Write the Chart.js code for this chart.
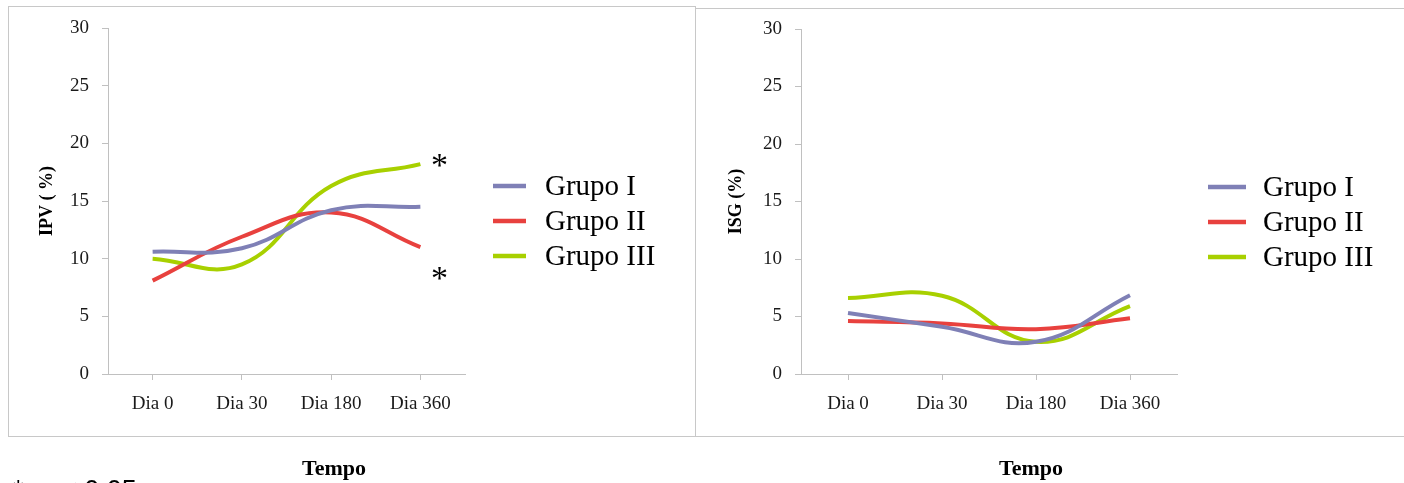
<!DOCTYPE html>
<html>
<head>
<meta charset="utf-8">
<script src="https://cdn.jsdelivr.net/npm/chart.js@4.4.1/dist/chart.umd.min.js"></script>
<style>
  html, body { margin: 0; padding: 0; background: #fff; overflow: hidden; }
  body { width: 1404px; height: 483px; position: relative; }
  .box { position: absolute; border: 1px solid #c8c8c8; box-sizing: border-box; }
  canvas { position: absolute; top: 0; }
  .tempo { position: absolute; width: 120px; text-align: center; font: bold 22px "Liberation Serif", serif; line-height: 26px; color: #000; }
  .nota { position: absolute; left: 13px; top: 477px; font: 27px "Liberation Sans", Arial, sans-serif; line-height: 27px; color: #000; white-space: pre; }
</style>
</head>
<body>

<div class="box" style="left:8px; top:6px; width:688px; height:431px;"></div>
<div class="box" style="left:695px; top:8px; width:720px; height:429px;"></div>

<canvas id="ipvChart" width="697" height="483" style="left:0px;"></canvas>
<canvas id="isgChart" width="707" height="483" style="left:697px;"></canvas>

<div class="tempo" style="left:274px; top:455px;">Tempo</div>
<div class="tempo" style="left:971px; top:455px;">Tempo</div>
<div class="nota">*  p &lt; 0.05</div>

<script>
// categorias e valores
var dias = ["Dia 0", "Dia 30", "Dia 180", "Dia 360"];
var grupos = ["Grupo I", "Grupo II", "Grupo III"];
var cores = ["#7f80b6", "#e8413e", "#a8d000"];

var ipvGrupoI   = [10.6, 10.9, 14.2, 14.5];
var ipvGrupoII  = [8.1, 11.9, 14.0, 11.0];
var ipvGrupoIII = [10.0, 9.5, 16.3, 18.2];

var isgGrupoI   = [5.3, 4.1, 2.8, 6.85];
var isgGrupoII  = [4.6, 4.4, 3.9, 4.85];
var isgGrupoIII = [6.6, 6.8, 2.8, 5.9];

var yTicks = [0, 5, 10, 15, 20, 25, 30];

// asteriscos (p<0.05) no IPV, Dia 360
var ipvAsteriscos = [18.6, 8.85];

var legendaPlugin = {
	id: "legendaPlugin",
	afterDraw: function(chart, args, opts) {
		var ctx = chart.ctx;
		var r = chart.chartArea.right;
		ctx.save();
		chart.data.datasets.forEach(function(ds, i) {
			var y = opts.y0 + i * opts.dy;
			ctx.strokeStyle = ds.borderColor;
			ctx.lineWidth = 4.5;
			ctx.beginPath();
			ctx.moveTo(r + opts.lineStart, y);
			ctx.lineTo(r + opts.lineEnd, y);
			ctx.stroke();
			ctx.fillStyle = "#000";
			ctx.font = '29px "Liberation Serif", serif';
			ctx.textBaseline = "middle";
			ctx.textAlign = "left";
			ctx.fillText(ds.label, r + opts.textStart, y + 1);
		});
		ctx.restore();
	}
};

var asteriscoPlugin = {
	id: "asteriscoPlugin",
	afterDraw: function(chart, args, opts) {
		if (!opts.valores) return;
		var ctx = chart.ctx;
		var x = chart.scales.x.getPixelForValue(dias.length - 1) + 19;
		ctx.save();
		ctx.fillStyle = "#000";
		ctx.font = '34px "Liberation Serif", serif';
		ctx.textAlign = "center";
		ctx.textBaseline = "alphabetic";
		opts.valores.forEach(function(v) {
			var y = chart.scales.y.getPixelForValue(v);
			ctx.fillText("*", x, y + 17);
		});
		ctx.restore();
	}
};

function desenhar(id, titulo, series, cfg) {
	var datasets = series.map(function(s, i) {
		return {
			label: grupos[i],
			data: s,
			borderColor: cores[i],
			backgroundColor: cores[i],
			borderWidth: 4,
			pointRadius: 0,
			fill: false,
			tension: 0.42
		};
	});

	var tickFont = { family: '"Liberation Serif", serif', size: 19 };

	return new Chart(id, {
		type: "line",
		data: { labels: dias, datasets: datasets },
		options: {
			responsive: false,
			animation: false,
			layout: { padding: cfg.padding },
			plugins: {
				legend: { display: false },
				tooltip: { enabled: false },
				legendaPlugin: cfg.legenda,
				asteriscoPlugin: { valores: cfg.asteriscos }
			},
			scales: {
				x: {
					offset: true,
					grid: { offset: false, drawOnChartArea: false, tickLength: 6, color: "#c0c0c0" },
					border: { color: "#c0c0c0" },
					ticks: { font: tickFont, color: "#1a1a1a", padding: 13, maxRotation: 0 },
					afterFit: function(scale) { scale.height = 109; }
				},
				y: {
					min: 0,
					max: 30,
					afterBuildTicks: function(scale) {
						scale.ticks = yTicks.map(function(v) { return { value: v }; });
					},
					grid: { drawOnChartArea: false, tickLength: 6, color: "#c0c0c0" },
					border: { color: "#c0c0c0" },
					ticks: { font: tickFont, color: "#1a1a1a", padding: 13 },
					title: {
						display: true,
						text: titulo,
						color: "#000",
						font: { family: '"Liberation Serif", serif', size: 18, weight: "bold" },
						padding: { top: cfg.titlePad, bottom: 0 }
					},
					afterFit: function(scale) { scale.width = cfg.yWidth; }
				}
			}
		},
		plugins: [legendaPlugin, asteriscoPlugin]
	});
}

desenhar("ipvChart", "IPV ( %)", [ipvGrupoI, ipvGrupoII, ipvGrupoIII], {
	padding: { left: 8, top: 28, right: 232, bottom: 0 },
	yWidth: 100,
	titlePad: 29,
	legenda: { y0: 186, dy: 35, lineStart: 28, lineEnd: 61, textStart: 80 },
	asteriscos: ipvAsteriscos
});

desenhar("isgChart", "ISG (%)", [isgGrupoI, isgGrupoII, isgGrupoIII], {
	padding: { left: 0, top: 29, right: 227, bottom: 0 },
	yWidth: 104,
	titlePad: 29,
	legenda: { y0: 187, dy: 35, lineStart: 31, lineEnd: 69, textStart: 86 },
	asteriscos: null
});
</script>

</body>
</html>
